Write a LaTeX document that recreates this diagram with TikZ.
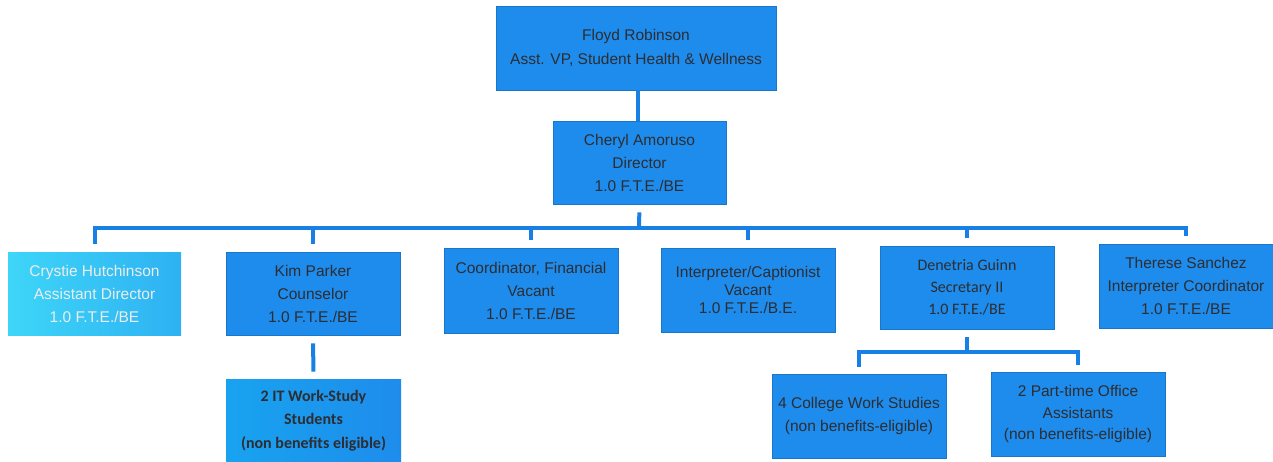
\documentclass[tikz,border=0pt]{standalone}
\usepackage{fontspec}
\setmainfont{Liberation Sans}
\newfontfamily\calib{Carlito}
\definecolor{boxblue}{RGB}{30,140,236}
\definecolor{lineblue}{RGB}{24,128,228}
\definecolor{txt}{RGB}{45,45,50}
\tikzset{
  box/.style={draw=boxblue!85!black, line width=0.6pt, fill=boxblue, text=txt, align=center,
    inner sep=0pt, font=\fontsize{15.5}{23}\selectfont},
  conn/.style={draw=lineblue, line width=4pt},
}
\begin{document}
\begin{tikzpicture}[x=1pt,y=-1pt]
\useasboundingbox (0,0) rectangle (1273,462);
\fill[white] (0,0) rectangle (1273,462);
% top levels
\node[box, minimum width=280pt, minimum height=84pt, font=\fontsize{15.5}{24}\selectfont] (floyd) at (636,48)
  {Floyd Robinson\\Asst. VP, Student Health \& Wellness};
\node[box, minimum width=173pt, minimum height=83pt] (cheryl) at (639.5,162.5)
  {Cheryl Amoruso\\Director\\1.0 F.T.E./BE};
% level 2
\node[box, draw=none, left color=cyan!55!boxblue!80!white, right color=boxblue!75!cyan!90!white, text=white!85!gray,
  minimum width=173pt, minimum height=83pt] (crystie) at (94.5,293.5)
  {Crystie Hutchinson\\Assistant Director\\1.0 F.T.E./BE};
\node[box, minimum width=174pt, minimum height=83pt] (kim) at (313,293.5)
  {Kim Parker\\Counselor\\1.0 F.T.E./BE};
\node[box, minimum width=174pt, minimum height=85pt] (coord) at (531,290.5)
  {Coordinator, Financial\\Vacant\\1.0 F.T.E./BE};
\node[box, minimum width=174pt, minimum height=84pt, font=\fontsize{15.5}{18}\selectfont] (interp) at (748,290)
  {Interpreter/Captionist\\Vacant\\1.0 F.T.E./B.E.};
\node[box, minimum width=174pt, minimum height=83pt, font=\calib\fontsize{16}{22}\selectfont] (denet) at (967,287.5)
  {Denetria Guinn\\Secretary II\\1.0 F.T.E./BE};
\node[box, minimum width=174pt, minimum height=84pt] (therese) at (1186,286)
  {Therese Sanchez\\Interpreter Coordinator\\1.0 F.T.E./BE};
% level 3
\node[box, draw=none, left color=boxblue!80!cyan, right color=boxblue, minimum width=175pt, minimum height=83pt,
  font=\calib\bfseries\fontsize{16}{23.5}\selectfont] (it) at (313.5,420.5)
  {2 IT Work-Study\\Students\\(non benefits eligible)};
\node[box, minimum width=174pt, minimum height=84pt] (college) at (859,416)
  {4 College Work Studies\\(non benefits-eligible)};
\node[box, minimum width=174pt, minimum height=84pt, font=\fontsize{15.5}{21.5}\selectfont] (part) at (1078,414)
  {2 Part-time Office\\Assistants\\(non benefits-eligible)};
% connectors
\coordinate (bar) at (639,228);
\coordinate (bar2) at (967,352);
\draw[conn] (floyd.south -| 638,0) -- (cheryl.north -| 638,0);
\draw[conn, shorten <=8pt] (cheryl.south) -- (bar);
\foreach \c in {crystie,kim,coord,interp,denet,therese}
  \draw[conn, shorten >=8pt] (bar) -| (\c.north);
\draw[conn, shorten <=8pt, shorten >=7pt] (kim.south) -- (it.north);
\draw[conn, shorten <=8pt] (denet.south) -- (bar2);
\draw[conn, shorten >=7pt] (bar2) -| (college.north);
\draw[conn, shorten >=7pt] (bar2) -| (part.north);
\end{tikzpicture}
\end{document}
